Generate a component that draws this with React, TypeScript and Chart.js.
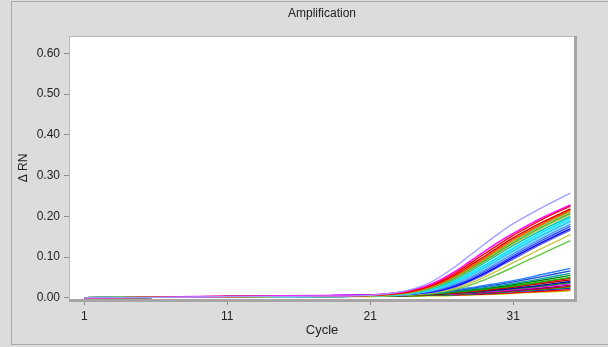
import React, { useEffect, useRef } from "react";
import { Chart, registerables } from "chart.js";

Chart.register(...registerables);

const CYCLES = [1, 6, 12, 18, 21, 23, 24, 25, 26, 27, 28, 29, 30, 31, 33, 35];
const X_TICKS = [1, 11, 21, 31];
const Y_TICKS = [0, 0.1, 0.2, 0.3, 0.4, 0.5, 0.6];

const CURVE_COLORS = [
  "#a0a0ff", "#ff00ff", "#ff0000", "#e00000", "#ff5000", "#b8a000", "#30c060", "#d0c020",
  "#00c0b0", "#00e8ff", "#40e0ff", "#20c8f0", "#80d8ff", "#4090ff", "#3050ff", "#0000ff",
  "#6060ff", "#c8c840", "#60c840",
  "#3080ff", "#2050d0", "#00a0a0", "#008000", "#00c000", "#ff0000", "#b00000", "#0000c0",
  "#00a000", "#ff00ff", "#800080", "#e00000", "#00e000", "#0000ff", "#ff0000", "#c0c000",
];

const CURVE_VALUES: number[][] = [
  [0, 0.001, 0.003, 0.004, 0.006, 0.014, 0.022, 0.034, 0.054, 0.078, 0.105, 0.132, 0.158, 0.182, 0.221, 0.257],
  [0, 0.001, 0.004, 0.006, 0.007, 0.013, 0.020, 0.030, 0.046, 0.066, 0.090, 0.114, 0.137, 0.158, 0.196, 0.228],
  [0, 0.001, 0.004, 0.005, 0.006, 0.012, 0.018, 0.028, 0.043, 0.062, 0.085, 0.108, 0.131, 0.153, 0.192, 0.225],
  [0, 0.001, 0.003, 0.005, 0.006, 0.011, 0.017, 0.026, 0.040, 0.058, 0.080, 0.102, 0.125, 0.147, 0.185, 0.218],
  [0, 0.001, 0.003, 0.004, 0.006, 0.011, 0.016, 0.025, 0.038, 0.055, 0.076, 0.098, 0.121, 0.143, 0.181, 0.215],
  [0, 0.002, 0.003, 0.004, 0.005, 0.010, 0.015, 0.023, 0.036, 0.053, 0.073, 0.095, 0.117, 0.139, 0.178, 0.212],
  [0, 0.001, 0.003, 0.005, 0.006, 0.010, 0.015, 0.022, 0.034, 0.050, 0.070, 0.091, 0.113, 0.135, 0.174, 0.208],
  [0, 0.001, 0.002, 0.004, 0.005, 0.009, 0.014, 0.021, 0.033, 0.048, 0.068, 0.089, 0.110, 0.132, 0.171, 0.205],
  [0, 0.001, 0.003, 0.004, 0.005, 0.009, 0.013, 0.020, 0.031, 0.046, 0.065, 0.086, 0.107, 0.128, 0.166, 0.200],
  [0, 0.001, 0.002, 0.004, 0.005, 0.008, 0.012, 0.018, 0.028, 0.042, 0.060, 0.080, 0.101, 0.122, 0.161, 0.196],
  [0, 0.001, 0.002, 0.004, 0.005, 0.008, 0.012, 0.018, 0.027, 0.040, 0.057, 0.077, 0.098, 0.119, 0.157, 0.192],
  [0, 0.001, 0.003, 0.004, 0.005, 0.008, 0.011, 0.017, 0.026, 0.038, 0.055, 0.074, 0.095, 0.115, 0.153, 0.188],
  [0, 0.001, 0.002, 0.003, 0.004, 0.007, 0.011, 0.016, 0.025, 0.037, 0.053, 0.072, 0.092, 0.112, 0.150, 0.185],
  [0, 0.001, 0.002, 0.003, 0.005, 0.007, 0.010, 0.015, 0.023, 0.035, 0.050, 0.068, 0.088, 0.108, 0.146, 0.180],
  [0, 0.001, 0.002, 0.004, 0.006, 0.008, 0.010, 0.014, 0.021, 0.032, 0.046, 0.064, 0.083, 0.103, 0.141, 0.175],
  [0, 0.001, 0.003, 0.005, 0.007, 0.008, 0.010, 0.013, 0.019, 0.029, 0.043, 0.060, 0.079, 0.099, 0.136, 0.170],
  [0, 0.001, 0.002, 0.004, 0.006, 0.007, 0.009, 0.012, 0.018, 0.027, 0.041, 0.057, 0.076, 0.095, 0.132, 0.166],
  [0, 0.001, 0.002, 0.003, 0.004, 0.006, 0.008, 0.011, 0.016, 0.024, 0.036, 0.051, 0.068, 0.086, 0.121, 0.155],
  [0, 0.001, 0.002, 0.003, 0.004, 0.006, 0.008, 0.010, 0.014, 0.021, 0.031, 0.044, 0.059, 0.075, 0.108, 0.140],
  [0, 0.001, 0.002, 0.004, 0.005, 0.007, 0.009, 0.012, 0.016, 0.020, 0.025, 0.030, 0.036, 0.042, 0.057, 0.072],
  [0, 0.001, 0.002, 0.003, 0.005, 0.007, 0.009, 0.011, 0.014, 0.018, 0.023, 0.028, 0.033, 0.039, 0.052, 0.066],
  [0, 0.001, 0.003, 0.004, 0.005, 0.006, 0.008, 0.010, 0.013, 0.017, 0.021, 0.025, 0.030, 0.035, 0.047, 0.060],
  [0, 0.001, 0.002, 0.004, 0.005, 0.006, 0.008, 0.010, 0.012, 0.015, 0.019, 0.023, 0.027, 0.032, 0.043, 0.055],
  [0, 0.001, 0.002, 0.003, 0.004, 0.006, 0.007, 0.009, 0.011, 0.014, 0.017, 0.021, 0.025, 0.029, 0.039, 0.050],
  [0, 0.001, 0.003, 0.004, 0.005, 0.006, 0.007, 0.009, 0.011, 0.013, 0.016, 0.020, 0.024, 0.028, 0.038, 0.048],
  [0, 0.001, 0.002, 0.004, 0.005, 0.006, 0.007, 0.008, 0.010, 0.012, 0.015, 0.018, 0.022, 0.026, 0.035, 0.044],
  [0, 0.001, 0.003, 0.005, 0.006, 0.007, 0.008, 0.009, 0.010, 0.012, 0.014, 0.017, 0.020, 0.023, 0.031, 0.040],
  [0, 0.001, 0.002, 0.003, 0.004, 0.005, 0.006, 0.007, 0.009, 0.011, 0.013, 0.016, 0.019, 0.022, 0.029, 0.037],
  [0, 0.002, 0.004, 0.005, 0.006, 0.006, 0.007, 0.008, 0.009, 0.010, 0.012, 0.015, 0.017, 0.020, 0.027, 0.034],
  [0, 0.001, 0.002, 0.003, 0.004, 0.005, 0.006, 0.007, 0.008, 0.009, 0.011, 0.013, 0.016, 0.018, 0.024, 0.031],
  [0, 0.001, 0.003, 0.004, 0.005, 0.005, 0.006, 0.007, 0.008, 0.009, 0.011, 0.013, 0.015, 0.017, 0.022, 0.028],
  [0, 0.001, 0.002, 0.003, 0.004, 0.005, 0.005, 0.006, 0.007, 0.008, 0.010, 0.012, 0.014, 0.016, 0.021, 0.026],
  [0, 0.001, 0.002, 0.004, 0.005, 0.005, 0.006, 0.006, 0.007, 0.008, 0.009, 0.011, 0.013, 0.015, 0.019, 0.024],
  [0, 0.001, 0.003, 0.004, 0.004, 0.005, 0.005, 0.006, 0.006, 0.007, 0.008, 0.009, 0.011, 0.012, 0.016, 0.020],
  [0, 0.001, 0.002, 0.003, 0.003, 0.004, 0.004, 0.005, 0.005, 0.006, 0.007, 0.008, 0.009, 0.011, 0.014, 0.017],
];

const FONT = "'Liberation Sans', Arial, sans-serif";

const framePlugin = {
  id: "qpcrFrame",
  beforeDraw(chart: any) {
    const { ctx, width, height, chartArea: a } = chart;
    ctx.save();
    ctx.fillStyle = "#dcdcdc";
    ctx.fillRect(0, 0, width, height);
    ctx.strokeStyle = "#aaaaaa";
    ctx.lineWidth = 1;
    ctx.strokeRect(11.5, 1.5, width, 343);
    ctx.fillStyle = "#ffffff";
    ctx.fillRect(a.left, a.top, a.right - a.left, a.bottom - a.top);
    ctx.restore();
  },
  afterDatasetsDraw(chart: any) {
    const { ctx, chartArea: a } = chart;
    ctx.save();
    ctx.fillStyle = "#b8b8b8";
    ctx.fillRect(a.left - 1, a.top - 1, a.right - a.left + 1, 1);
    ctx.fillRect(a.left - 1, a.top - 1, 1, a.bottom - a.top + 1);
    ctx.fillStyle = "#a6a6a6";
    ctx.fillRect(a.right, a.top - 1, 3, a.bottom - a.top + 4);
    ctx.fillRect(a.left - 1, a.bottom, a.right - a.left + 4, 3);
    ctx.restore();
  },
};

export default function App() {
  const ref = useRef<HTMLCanvasElement | null>(null);

  useEffect(() => {
    if (!ref.current) return;
    const datasets = CURVE_VALUES.map((vals, i) => ({
      label: "Well " + (i + 1),
      data: vals.map((v, j) => ({ x: CYCLES[j], y: v })),
      borderColor: CURVE_COLORS[i],
      backgroundColor: CURVE_COLORS[i],
      borderWidth: 1.4,
      pointRadius: 0,
      tension: 0.4,
      fill: false,
    }));

    const chart = new Chart(ref.current, {
      type: "line",
      data: { datasets },
      plugins: [framePlugin],
      options: {
        animation: false,
        responsive: false,
        devicePixelRatio: 1,
        layout: { padding: { left: 12, right: 34, top: 0, bottom: 0 } },
        plugins: {
          legend: { display: false },
          tooltip: { enabled: false },
          title: {
            display: true,
            text: "Amplification",
            fullSize: false,
            color: "#222",
            font: { family: FONT, size: 12, weight: "normal" },
            padding: { top: 6, bottom: 16.6 },
          },
        },
        scales: {
          x: {
            type: "linear",
            min: 0,
            max: 35.25,
            afterBuildTicks: (s: any) => {
              s.ticks = X_TICKS.map((v) => ({ value: v }));
            },
            afterFit: (s: any) => {
              s.height = 48;
            },
            grid: { drawOnChartArea: false, drawTicks: true, tickLength: 6, color: "#8c8c8c" },
            border: { display: false },
            ticks: {
              padding: 4,
              color: "#222",
              autoSkip: false,
              maxRotation: 0,
              font: { family: FONT, size: 12 },
              callback: (v: any) => String(v),
            },
            title: {
              display: true,
              text: "Cycle",
              color: "#222",
              font: { family: FONT, size: 13 },
              padding: { top: 0, bottom: 9 },
            },
          },
          y: {
            type: "linear",
            min: -0.003,
            max: 0.64,
            afterBuildTicks: (s: any) => {
              s.ticks = Y_TICKS.map((v) => ({ value: v }));
            },
            afterFit: (s: any) => {
              s.width = 58;
            },
            grid: { drawOnChartArea: false, drawTicks: true, tickLength: 6, color: "#8c8c8c" },
            border: { display: false },
            ticks: {
              padding: 4,
              color: "#222",
              font: { family: FONT, size: 12 },
              callback: (v: any) => Number(v).toFixed(2),
            },
            title: {
              display: true,
              text: "Δ RN",
              color: "#222",
              font: { family: FONT, size: 12 },
              padding: { top: 4, bottom: 0 },
            },
          },
        },
      },
    });
    return () => chart.destroy();
  }, []);

  return (
    <div style={{ position: "absolute", left: 0, top: 0, width: 608, height: 347 }}>
      <canvas ref={ref} width={608} height={347} style={{ width: 608, height: 347, display: "block" }} />
    </div>
  );
}
